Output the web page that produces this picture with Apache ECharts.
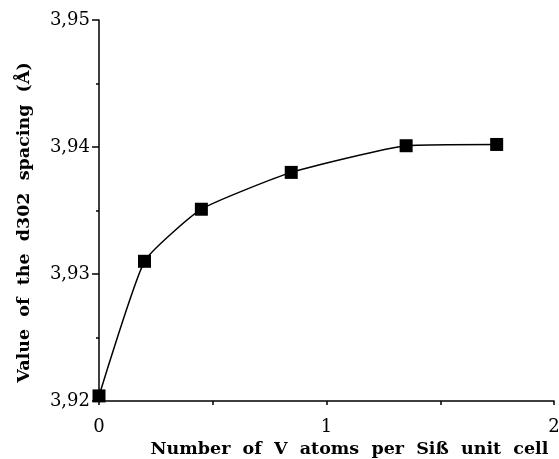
<!DOCTYPE html>
<html>
<head>
<meta charset="utf-8">
<script src="https://cdn.jsdelivr.net/npm/echarts@6/dist/echarts.min.js"></script>
<style>
  html, body { margin: 0; padding: 0; background: #fff; }
  #chart { width: 559px; height: 459px; }
</style>
</head>
<body>
<div id="chart"></div>
<script>
// V content per Siß unit cell and the measured d302 spacing
const vAtoms = [0, 0.2, 0.45, 0.845, 1.35, 1.748];
const d302 = [3.9204, 3.9310, 3.9351, 3.9380, 3.9401, 3.9402];

const xTitle = 'Number  of  V  atoms  per  Siß  unit  cell';
const yTitle = 'Value  of  the  d302  spacing  (Å)';

const serif = '"DejaVu Serif", "Liberation Serif", serif';

const chart = echarts.init(document.getElementById('chart'));
chart.setOption({
  animation: false,
  grid: { left: 99, right: 5, top: 20, bottom: 58, containLabel: false, outerBoundsMode: 'none' },
  xAxis: {
    type: 'value', min: 0, max: 2, interval: 1,
    name: xTitle, nameLocation: 'middle', nameGap: 35,
    nameTextStyle: { fontFamily: serif, fontSize: 17.5, fontWeight: 'bold', color: '#000', padding: [0, 0, 0, 46] },
    axisLine: { show: true, lineStyle: { color: '#000', width: 1.5 } },
    axisTick: { show: true, inside: false, length: 4, lineStyle: { color: '#000', width: 1.5 } },
    minorTick: { show: true, splitNumber: 2, length: 4, lineStyle: { color: '#000', width: 1.5 } },
    axisLabel: { fontFamily: serif, fontSize: 18, color: '#000', margin: 17 },
    splitLine: { show: false }
  },
  yAxis: {
    type: 'value', min: 3.92, max: 3.95, interval: 0.01,
    name: yTitle, nameLocation: 'middle', nameGap: 66, nameRotate: 90,
    nameTextStyle: { fontFamily: serif, fontSize: 17.5, fontWeight: 'bold', color: '#000', padding: [0, 24, 0, 0] },
    axisLine: { show: true, lineStyle: { color: '#000', width: 1.5 } },
    axisTick: { show: true, inside: false, length: 7, lineStyle: { color: '#000', width: 1.5 } },
    minorTick: { show: true, splitNumber: 2, length: 3, lineStyle: { color: '#000', width: 1.5 } },
    axisLabel: {
      fontFamily: serif, fontSize: 18, color: '#000', margin: 9,
      formatter: v => v.toFixed(2).replace('.', ',')
    },
    splitLine: { show: false }
  },
  series: [{
    type: 'line',
    data: vAtoms.map((x, i) => [x, d302[i]]),
    smooth: 0.15,
    symbol: 'rect', symbolSize: 13,
    itemStyle: { color: '#000' },
    lineStyle: { color: '#000', width: 1.5 }
  }]
});
</script>
</body>
</html>
